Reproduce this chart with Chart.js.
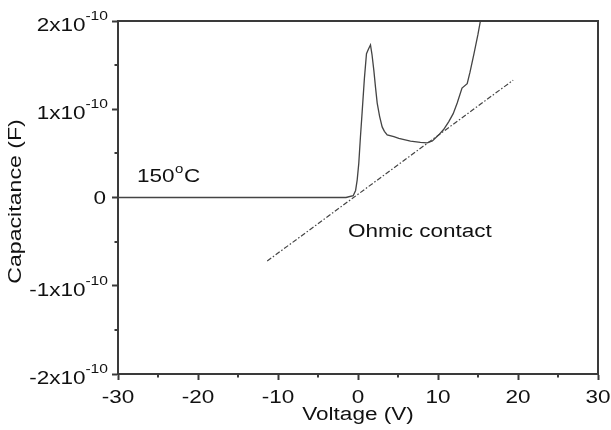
<!DOCTYPE html>
<html>
<head>
<meta charset="utf-8">
<script src="https://cdn.jsdelivr.net/npm/chart.js@4.4.0/dist/chart.umd.min.js"></script>
<style>
  html, body { margin: 0; padding: 0; background: #fff; }
</style>
</head>
<body>
<canvas id="cv" width="611" height="430"></canvas>
<script>
// measured C-V curve at 150 C (voltage in V, capacitance in F)
const voltage = [-30, -20, -10, -5, -1.5, -0.6, -0.3, -0.1, 0.1, 0.3, 0.52, 0.8, 1.06, 1.3, 1.56, 1.75, 1.98, 2.2, 2.4, 2.7, 3.02, 3.3, 3.65, 4.48, 5.1, 6.56, 7.8, 8.65, 9.3, 10.1, 10.7, 11.35, 11.9, 12.4, 13.0, 13.65, 14.0, 14.5, 15.0, 15.3, 15.6];
const capacitance = [0, 0, 0, 0, 0, 0.02e-10, 0.08e-10, 0.2e-10, 0.39e-10, 0.68e-10, 0.97e-10, 1.35e-10, 1.63e-10, 1.68e-10, 1.73e-10, 1.62e-10, 1.44e-10, 1.24e-10, 1.07e-10, 0.92e-10, 0.80e-10, 0.75e-10, 0.71e-10, 0.69e-10, 0.67e-10, 0.64e-10, 0.625e-10, 0.62e-10, 0.64e-10, 0.71e-10, 0.77e-10, 0.86e-10, 0.95e-10, 1.07e-10, 1.24e-10, 1.29e-10, 1.42e-10, 1.63e-10, 1.85e-10, 2.0e-10, 2.15e-10];

// ohmic contact guide line
const ohmicVoltage = [-11.35, 19.4];
const ohmicCap = [-0.72e-10, 1.33e-10];

// axes
const xTicks = [-30, -20, -10, 0, 10, 20, 30];
const xTickLabels = ['-30', '-20', '-10', '0', '10', '20', '30'];
const xMinor = [-25, -15, -5, 5, 15, 25];
const yTicks = [-2e-10, -1e-10, 0, 1e-10, 2e-10];
const yTickBase = ['-2x10', '-1x10', '0', '1x10', '2x10'];
const yTickExp = ['-10', '-10', '', '-10', '-10'];
const yMinor = [-1.5e-10, -0.5e-10, 0.5e-10, 1.5e-10];

const AXIS = '#3a3a3a';
const INK = '#111';
const FONT = '"Liberation Sans", Arial, sans-serif';
const SX = 1.25; // the source text is drawn wide

function wideText(ctx, str, x, y, size, align) {
    ctx.save();
    ctx.font = size + 'px ' + FONT;
    const w = ctx.measureText(str).width * SX;
    let left = x;
    if (align === 'right') left = x - w;
    else if (align === 'center') left = x - w / 2;
    ctx.translate(left, y);
    ctx.scale(SX, 1);
    ctx.textAlign = 'left';
    ctx.textBaseline = 'alphabetic';
    ctx.fillStyle = INK;
    ctx.fillText(str, 0, 0);
    ctx.restore();
    return w;
}

const decorations = {
    id: 'decorations',
    afterDraw(chart) {
        const ctx = chart.ctx;
        const a = chart.chartArea;
        const xs = chart.scales.x;
        const ys = chart.scales.y;

        // top and right frame
        ctx.save();
        ctx.strokeStyle = AXIS;
        ctx.lineWidth = 2;
        ctx.beginPath();
        ctx.moveTo(a.left - 1, a.top);
        ctx.lineTo(a.right, a.top);
        ctx.lineTo(a.right, a.bottom + 1);
        ctx.stroke();

        // minor ticks
        ctx.lineWidth = 2;
        ctx.beginPath();
        xMinor.forEach(v => {
            const px = Math.round(xs.getPixelForValue(v));
            ctx.moveTo(px, a.bottom);
            ctx.lineTo(px, a.bottom + 3.5);
        });
        yMinor.forEach(v => {
            const py = Math.round(ys.getPixelForValue(v));
            ctx.moveTo(a.left, py);
            ctx.lineTo(a.left - 3.5, py);
        });
        ctx.stroke();
        ctx.restore();

        // x tick labels
        xTicks.forEach((v, i) => {
            wideText(ctx, xTickLabels[i], xs.getPixelForValue(v), a.bottom + 29, 18, 'center');
        });

        // y tick labels with superscript exponent
        yTicks.forEach((v, i) => {
            const py = ys.getPixelForValue(v);
            const right = a.left - 10;
            if (yTickExp[i]) {
                const w = wideText(ctx, yTickExp[i], right, py - 1, 12.5, 'right');
                wideText(ctx, yTickBase[i], right - w, py + 10, 18, 'right');
            } else {
                wideText(ctx, yTickBase[i], right - 2, py + 6.5, 18, 'right');
            }
        });

        // axis titles
        wideText(ctx, 'Voltage (V)', (a.left + a.right) / 2, 420, 18, 'center');
        ctx.save();
        ctx.translate(21, (a.top + a.bottom) / 2 + 4);
        ctx.rotate(-Math.PI / 2);
        wideText(ctx, 'Capacitance (F)', 0, 0, 18.5, 'center');
        ctx.restore();

        // annotations
        const w150 = wideText(ctx, '150', 137, 182, 18, 'left');
        const wo = wideText(ctx, 'o', 137 + w150 + 0.5, 173, 12, 'left');
        wideText(ctx, 'C', 137 + w150 + wo + 1, 182, 18, 'left');
        wideText(ctx, 'Ohmic contact', 348, 237, 18, 'left');
    }
};

new Chart(document.getElementById('cv'), {
    type: 'line',
    data: {
        datasets: [
            {
                label: '150 C',
                data: voltage.map((v, i) => ({ x: v, y: capacitance[i] })),
                borderColor: '#444',
                borderWidth: 1.3,
                pointRadius: 0,
                tension: 0,
                fill: false,
            },
            {
                label: 'Ohmic contact',
                data: ohmicVoltage.map((v, i) => ({ x: v, y: ohmicCap[i] })),
                borderColor: '#444',
                borderWidth: 1.2,
                borderDash: [5, 2, 1.5, 2],
                pointRadius: 0,
                fill: false,
            }
        ]
    },
    options: {
        responsive: false,
        animation: false,
        devicePixelRatio: 1,
        layout: { padding: { left: 0, top: 21, right: 13, bottom: 0 } },
        plugins: {
            legend: { display: false },
            tooltip: { enabled: false }
        },
        scales: {
            x: {
                type: 'linear',
                min: -30,
                max: 30,
                afterBuildTicks: scale => { scale.ticks = xTicks.map(v => ({ value: v })); },
                afterFit: scale => { scale.height = 56; },
                ticks: { display: false },
                grid: {
                    drawOnChartArea: false,
                    drawTicks: true,
                    tickLength: 6,
                    tickWidth: 2,
                    tickColor: AXIS,
                },
                border: { display: true, color: AXIS, width: 2 }
            },
            y: {
                type: 'linear',
                min: -2e-10,
                max: 2e-10,
                afterBuildTicks: scale => { scale.ticks = yTicks.map(v => ({ value: v })); },
                afterFit: scale => { scale.width = 118; },
                ticks: { display: false },
                grid: {
                    drawOnChartArea: false,
                    drawTicks: true,
                    tickLength: 6,
                    tickWidth: 2,
                    tickColor: AXIS,
                },
                border: { display: true, color: AXIS, width: 2 }
            }
        }
    },
    plugins: [decorations]
});
</script>
</body>
</html>
